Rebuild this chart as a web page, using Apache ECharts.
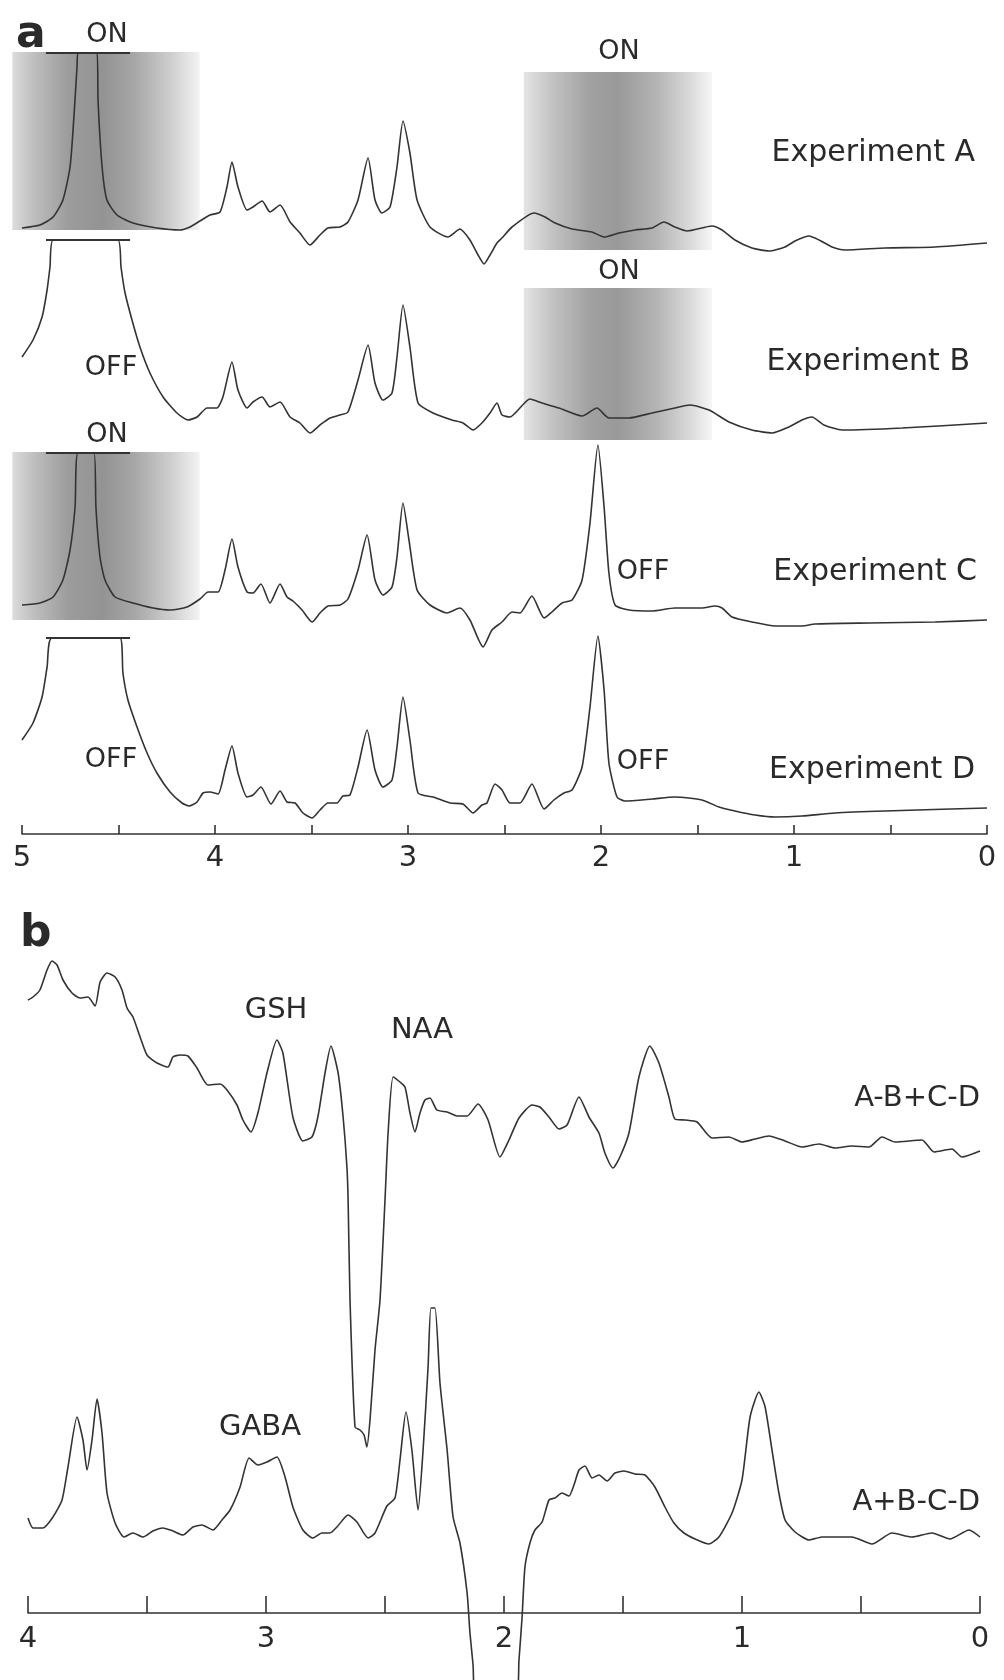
<!DOCTYPE html>
<html><head><meta charset="utf-8">
<script src="https://cdn.jsdelivr.net/npm/echarts/dist/echarts.min.js"></script>
<style>html,body{margin:0;padding:0;background:#fff}#c{width:1004px;height:1680px}</style>
</head><body><div id="c"></div>
<script>
// ---------- DATA (ppm, intensity relative to each trace's baseline) ----------
const expA = [[5.000,15],[4.907,18],[4.839,26],[4.788,43],[4.751,76],[4.731,126],[4.715,176],[4.710,190],[4.611,190],[4.606,143],[4.585,76],[4.560,43],[4.508,28],[4.425,20],[4.301,15],[4.181,13],[4.130,16],[4.078,22],[4.026,28],[3.974,31],[3.938,56],[3.912,81],[3.881,56],[3.834,33],[3.803,36],[3.756,42],[3.715,31],[3.663,38],[3.611,21],[3.560,10],[3.508,-2],[3.456,8],[3.415,15],[3.352,16],[3.311,21],[3.259,43],[3.207,85],[3.171,43],[3.135,30],[3.093,36],[3.057,76],[3.026,122],[2.990,90],[2.953,43],[2.886,16],[2.793,6],[2.731,14],[2.679,3],[2.637,-12],[2.606,-21],[2.575,-12],[2.539,0],[2.513,5],[2.461,16],[2.347,30],[2.290,26],[2.238,20],[2.150,14],[2.047,11],[1.984,6],[1.907,10],[1.824,13],[1.736,15],[1.674,21],[1.617,16],[1.554,12],[1.425,17],[1.373,13],[1.306,3],[1.218,-5],[1.130,-8],[1.047,-4],[0.995,2],[0.922,7],[0.870,3],[0.803,-4],[0.736,-7],[0.528,-5],[0.269,-4],[0.000,0]];
const expB = [[5.000,66],[4.943,83],[4.896,106],[4.870,133],[4.855,156],[4.839,183],[4.503,183],[4.487,156],[4.466,130],[4.430,103],[4.389,76],[4.337,50],[4.269,26],[4.197,10],[4.140,3],[4.093,6],[4.041,15],[3.990,15],[3.959,26],[3.912,61],[3.881,33],[3.834,15],[3.803,21],[3.756,26],[3.715,16],[3.663,21],[3.611,6],[3.560,0],[3.508,-10],[3.456,-2],[3.404,5],[3.352,8],[3.311,11],[3.259,43],[3.207,78],[3.171,40],[3.130,23],[3.083,30],[3.057,66],[3.026,118],[2.990,76],[2.948,20],[2.870,10],[2.772,3],[2.715,0],[2.663,-7],[2.617,0],[2.575,10],[2.539,20],[2.513,8],[2.472,6],[2.368,24],[2.306,20],[2.218,15],[2.098,7],[2.021,15],[1.959,5],[1.855,5],[1.736,10],[1.617,15],[1.539,18],[1.440,13],[1.337,1],[1.218,-7],[1.114,-10],[1.026,-4],[0.959,3],[0.907,6],[0.845,-2],[0.751,-7],[0.440,-5],[0.000,0]];
const expC = [[5.000,15],[4.907,17],[4.839,23],[4.788,40],[4.751,70],[4.725,113],[4.710,167],[4.627,167],[4.617,113],[4.596,63],[4.570,40],[4.518,23],[4.425,17],[4.321,12],[4.233,10],[4.145,13],[4.078,21],[4.036,28],[3.984,28],[3.948,50],[3.912,81],[3.881,53],[3.834,28],[3.803,27],[3.762,36],[3.715,17],[3.663,36],[3.627,23],[3.596,19],[3.549,10],[3.497,-2],[3.456,7],[3.415,14],[3.352,15],[3.311,21],[3.259,50],[3.212,85],[3.171,40],[3.130,25],[3.083,33],[3.057,63],[3.026,117],[2.995,80],[2.953,30],[2.886,15],[2.798,7],[2.731,12],[2.679,0],[2.611,-27],[2.565,-10],[2.513,-2],[2.461,8],[2.420,7],[2.358,24],[2.295,2],[2.254,8],[2.202,17],[2.150,20],[2.098,40],[2.057,97],[2.016,175],[1.984,113],[1.959,47],[1.927,15],[1.855,10],[1.736,9],[1.617,12],[1.477,12],[1.409,14],[1.373,12],[1.321,3],[1.218,-2],[1.098,-6],[0.959,-6],[0.891,-4],[0.611,-3],[0.269,-2],[0.000,0]];
const expD = [[5.000,68],[4.943,85],[4.896,111],[4.870,141],[4.845,170],[4.492,170],[4.477,135],[4.451,108],[4.404,81],[4.352,55],[4.301,35],[4.233,16],[4.171,5],[4.135,2],[4.093,6],[4.062,15],[4.026,16],[3.984,14],[3.948,38],[3.912,62],[3.881,35],[3.834,11],[3.803,13],[3.762,21],[3.710,4],[3.663,17],[3.627,6],[3.585,5],[3.544,-5],[3.497,-10],[3.456,-2],[3.415,5],[3.368,5],[3.337,12],[3.301,13],[3.259,41],[3.212,78],[3.171,38],[3.130,21],[3.083,28],[3.057,61],[3.026,111],[2.990,68],[2.948,15],[2.870,11],[2.782,5],[2.715,4],[2.663,-5],[2.617,3],[2.591,5],[2.549,24],[2.513,18],[2.472,5],[2.420,5],[2.358,24],[2.295,-1],[2.244,8],[2.192,15],[2.150,18],[2.098,41],[2.057,101],[2.016,172],[1.984,118],[1.959,45],[1.917,11],[1.876,7],[1.736,9],[1.617,11],[1.477,8],[1.389,1],[1.306,-3],[1.202,-7],[1.098,-9],[0.959,-8],[0.788,-5],[0.528,-3],[0.000,0]];
const diffGSH = [[4.000,151],[3.979,154],[3.950,161],[3.920,181],[3.899,190],[3.878,186],[3.853,171],[3.815,158],[3.782,153],[3.748,154],[3.718,145],[3.697,169],[3.668,178],[3.634,174],[3.605,161],[3.584,143],[3.559,134],[3.529,114],[3.500,96],[3.458,88],[3.412,84],[3.391,94],[3.361,96],[3.328,95],[3.290,83],[3.244,66],[3.193,67],[3.164,61],[3.122,46],[3.097,31],[3.063,19],[3.034,38],[2.996,78],[2.954,111],[2.929,98],[2.887,34],[2.845,10],[2.807,14],[2.782,34],[2.752,78],[2.727,105],[2.697,78],[2.676,34],[2.660,-16],[2.655,-49],[2.647,-149],[2.626,-276],[2.605,-279],[2.588,-284],[2.576,-296],[2.563,-269],[2.542,-199],[2.521,-149],[2.500,-49],[2.487,18],[2.466,74],[2.437,69],[2.416,64],[2.395,38],[2.374,19],[2.353,38],[2.332,51],[2.311,53],[2.282,41],[2.239,39],[2.197,35],[2.155,35],[2.109,47],[2.067,31],[2.017,-6],[1.979,11],[1.937,33],[1.882,46],[1.849,44],[1.811,34],[1.769,22],[1.735,26],[1.685,54],[1.643,34],[1.601,18],[1.576,-2],[1.542,-17],[1.513,-6],[1.475,18],[1.433,74],[1.387,105],[1.349,88],[1.307,54],[1.282,32],[1.239,31],[1.189,29],[1.126,13],[1.055,14],[1.000,9],[0.945,12],[0.887,15],[0.819,10],[0.748,4],[0.676,7],[0.609,3],[0.538,5],[0.466,4],[0.412,14],[0.357,9],[0.244,11],[0.193,-1],[0.118,2],[0.076,-6],[0.000,0]];
const diffGABA = [[4.000,19],[3.979,9],[3.937,9],[3.895,20],[3.857,37],[3.832,70],[3.794,120],[3.769,97],[3.752,67],[3.731,97],[3.710,138],[3.689,104],[3.668,44],[3.634,14],[3.597,0],[3.559,4],[3.517,0],[3.475,6],[3.433,9],[3.391,6],[3.349,2],[3.307,10],[3.269,12],[3.223,7],[3.185,17],[3.151,27],[3.109,50],[3.071,79],[3.034,72],[2.996,75],[2.954,80],[2.920,60],[2.887,30],[2.845,7],[2.803,-1],[2.765,4],[2.731,4],[2.702,10],[2.655,22],[2.618,15],[2.571,-1],[2.542,4],[2.492,31],[2.458,39],[2.437,77],[2.412,125],[2.387,87],[2.361,27],[2.340,87],[2.319,170],[2.307,229],[2.290,229],[2.269,154],[2.239,87],[2.214,20],[2.185,-6],[2.155,-56],[2.143,-96],[2.130,-128],[2.118,-163],[1.950,-163],[1.937,-123],[1.924,-80],[1.912,-30],[1.891,-6],[1.870,7],[1.840,15],[1.811,37],[1.786,39],[1.756,44],[1.727,41],[1.706,52],[1.685,67],[1.660,71],[1.630,59],[1.601,62],[1.567,56],[1.534,64],[1.496,66],[1.450,63],[1.408,62],[1.366,50],[1.324,30],[1.286,14],[1.244,4],[1.197,-2],[1.139,-7],[1.097,0],[1.042,24],[1.000,57],[0.966,120],[0.929,145],[0.903,130],[0.874,87],[0.845,44],[0.819,17],[0.777,5],[0.718,-3],[0.664,0],[0.609,0],[0.538,0],[0.454,-7],[0.370,4],[0.286,0],[0.202,4],[0.126,-2],[0.046,7],[0.000,0]];
const expNames = ['Experiment A','Experiment B','Experiment C','Experiment D'];
const diffNames = ['A-B+C-D','A+B-C-D'];
const majorTicksA = [0,1,2,3,4,5];
const majorTicksB = [0,1,2,3,4];
// saturation (editing pulse) ranges in ppm, per experiment
const pulseRanges = [
  {exp:0, from:5.05, to:4.08}, {exp:0, from:2.40, to:1.425},
  {exp:1, from:2.40, to:1.425}, {exp:2, from:5.05, to:4.08}
];
const waterClipRange = [4.876, 4.440];
const waterClipLevel = [190, 183, 167, 170];

// ---------- LAYOUT / STYLE ----------
const LAY = {
  offA: [591, 411, 214, 26],
  offB: [462, 76],
  boxV: [[13,191],[-7,171],[-17,135],[0,168]] // vertical extent of each pulse box, relative to trace baseline
};
const FONT = '"DejaVu Sans", sans-serif';
const INK = '#2a2a2a';
const LINE = {color:'#333', width:1.6};

function shift(arr, off){ return arr.map(p => [p[0], p[1] + off]); }

const series = [];
[expA, expB, expC, expD].forEach((d, i) => {
  series.push({type:'line', xAxisIndex:0, yAxisIndex:0, data:shift(d, LAY.offA[i]),
    symbol:'none', smooth:0.2, lineStyle:LINE, z:3, silent:true});
  series.push({type:'line', xAxisIndex:0, yAxisIndex:0,
    data:[[waterClipRange[0], waterClipLevel[i]+LAY.offA[i]],[waterClipRange[1], waterClipLevel[i]+LAY.offA[i]]],
    symbol:'none', lineStyle:{color:'#333', width:2}, z:3, silent:true});
});
[diffGSH, diffGABA].forEach((d, i) => {
  series.push({type:'line', xAxisIndex:1, yAxisIndex:1, data:shift(d, LAY.offB[i]),
    symbol:'none', smooth:0.2, lineStyle:LINE, z:3, clip:false, silent:true});
});

function xAx(gi, max, tickLen, majors, margin){
  return {type:'value', gridIndex:gi, min:0, max:max, interval:0.5, inverse:true, position:'bottom',
    axisLine:{show:true, onZero:false, lineStyle:{color:'#333', width:1.6}},
    axisTick:{show:true, inside:true, length:tickLen, lineStyle:{color:'#333', width:1.6}},
    splitLine:{show:false},
    axisLabel:{show:true, margin:margin, color:INK, fontSize:29, fontFamily:FONT,
      showMinLabel:true, showMaxLabel:true, hideOverlap:false,
      formatter: v => majors.some(m => Math.abs(m - v) < 1e-6) ? String(Math.round(v)) : ''}};
}
function yAx(gi, min, max){
  return {type:'value', gridIndex:gi, min:min, max:max, show:false,
    axisLine:{show:false}, splitLine:{show:false}, axisTick:{show:false}, axisLabel:{show:false}};
}

const chart = echarts.init(document.getElementById('c'), null, {renderer:'canvas'});
chart.setOption({
  animation:false,
  backgroundColor:'#fff',
  grid:[
    {left:22, right:17, top:34, height:800, containLabel:false, outerBoundsMode:'none'},
    {left:28, right:24, top:940, height:673, containLabel:false, outerBoundsMode:'none'}
  ],
  xAxis:[xAx(0,5,9,majorTicksA,10), xAx(1,4,17,majorTicksB,12)],
  yAxis:[yAx(0,0,800), yAx(1,0,673)],
  series:series
});

// ---------- decorations: pulse boxes + texts ----------
function px(gi, p){ return chart.convertToPixel({gridIndex:gi}, p); }
const leftGrad = [[0,'#dcdcdc'],[0.12,'#bdbdbd'],[0.3,'#9c9c9c'],[0.48,'#939393'],[0.65,'#a6a6a6'],[0.85,'#cfcfcf'],[1,'#f3f3f3']];
const rightGrad = [[0,'#e4e4e4'],[0.15,'#c3c3c3'],[0.35,'#a1a1a1'],[0.5,'#999'],[0.7,'#b3b3b3'],[0.88,'#d9d9d9'],[1,'#f6f6f6']];
const graphics = [];
pulseRanges.forEach((r, k) => {
  const off = LAY.offA[r.exp];
  const v = LAY.boxV[k];
  const p1 = px(0, [r.from, off + v[1]]);
  const p2 = px(0, [r.to, off + v[0]]);
  const stops = (r.from > 3 ? leftGrad : rightGrad).map(s => ({offset:s[0], color:s[1]}));
  graphics.push({type:'rect', z:-10, silent:true,
    shape:{x:p1[0], y:p1[1], width:p2[0]-p1[0], height:p2[1]-p1[1]},
    style:{fill:new echarts.graphic.LinearGradient(0,0,1,0,stops)}});
});
function txt(t, x, y, size, align, weight){
  graphics.push({type:'text', z:10, silent:true,
    style:{text:t, x:x, y:y, fill:INK, font:(weight||'normal')+' '+size+'px '+FONT,
      textAlign:align||'center', textVerticalAlign:'middle'}});
}
txt('a', 16, 36, 44, 'left', 'bold');
txt('b', 20, 935, 44, 'left', 'bold');
txt('ON', 107, 35, 27); txt('ON', 619, 52, 27); txt('ON', 619, 272, 27); txt('ON', 107, 435, 27);
txt('OFF', 111, 368, 27); txt('OFF', 643, 572, 27); txt('OFF', 111, 760, 27); txt('OFF', 643, 762, 27);
txt(expNames[0], 975, 153, 30, 'right');
txt(expNames[1], 970, 362, 30, 'right');
txt(expNames[2], 977, 572, 30, 'right');
txt(expNames[3], 975, 770, 30, 'right');
txt('GSH', 276, 1010, 29);
txt('NAA', 422, 1030, 29);
txt('GABA', 260, 1427, 29);
txt(diffNames[0], 980, 1098, 29, 'right');
txt(diffNames[1], 980, 1502, 29, 'right');
chart.setOption({graphic:{elements:graphics}});
</script></body></html>
